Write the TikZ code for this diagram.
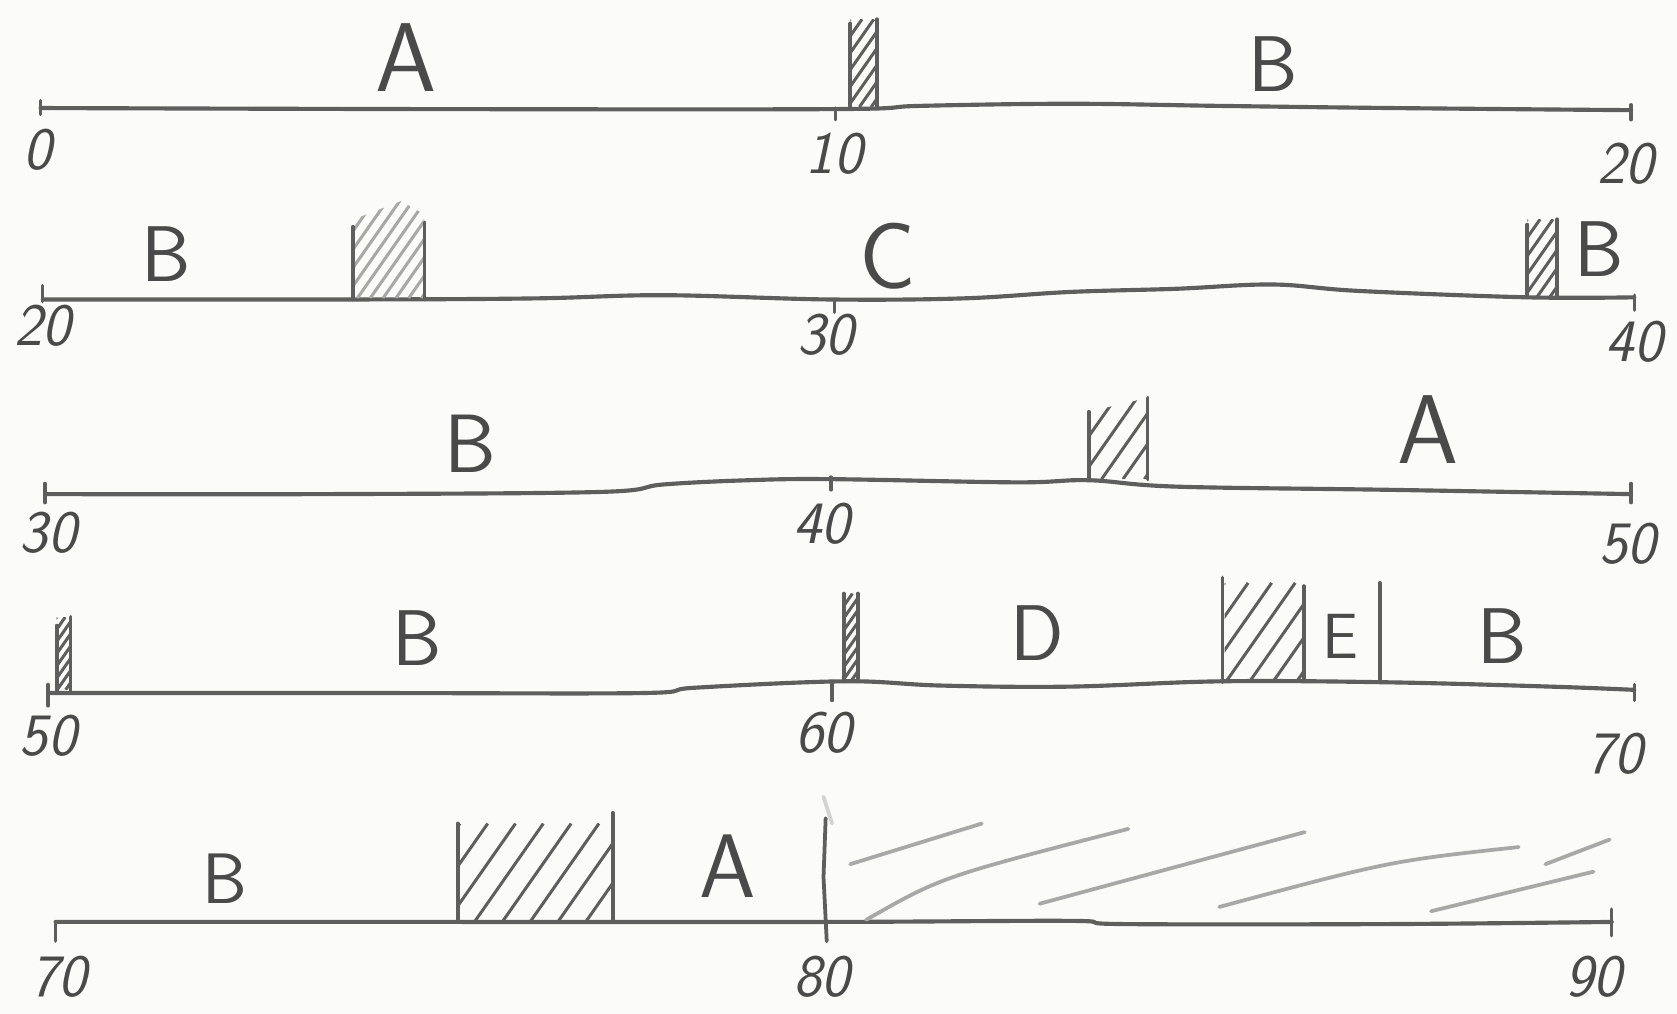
\documentclass[tikz,border=0pt]{standalone}
\definecolor{paper}{HTML}{FBFBFA}
\definecolor{pencil}{HTML}{5E5E5E}
\definecolor{pencillight}{HTML}{A8A8A8}
\definecolor{ink}{HTML}{4A4A4A}
\tikzset{
  axis/.style={draw=pencil, line width=1.1pt, line cap=round, line join=round},
  tickmark/.style={draw=pencil, line width=0.9pt, line cap=round},
  divider/.style={draw=pencil, line width=1.0pt, line cap=round},
  dividerlight/.style={draw=pencillight, line width=1.0pt, line cap=round},
  hatch/.style={draw=pencil, line width=0.8pt},
  hatchlight/.style={draw=pencillight, line width=0.8pt},
  scribble/.style={draw=pencillight, line width=1.0pt, line cap=round},
  seg/.style={text=ink, font=\sffamily, inner sep=0pt},
  num/.style={text=ink, font=\sffamily\slshape\fontsize{16}{18}\selectfont, inner sep=0pt},
}
% x1, ytop, x2, ybottom, spacing, style
\newcommand{\hatchrect}[6]{%
  \begin{scope}
    \clip (#1,#2) rectangle (#3,#4);
    \pgfmathsetmacro{\hh}{#4-#2}
    \pgfmathsetmacro{\hw}{0.7*\hh}
    \pgfmathsetmacro{\hstart}{#1-\hw}
    \pgfmathsetmacro{\hnext}{\hstart+#5}
    \foreach \a in {\hstart,\hnext,...,#3}{
      \draw[#6] (\a,#4) -- ++(\hw,-\hh);
    }
  \end{scope}}
\begin{document}
\begin{tikzpicture}[x=0.01cm,y=-0.01cm]
\fill[paper] (0,0) rectangle (1568,948);
\useasboundingbox (0,0) rectangle (1568,948);

% ---------------- Row 1 : 0 - 20
\draw[axis] plot[smooth, tension=0.6] coordinates {(38,101) (400,102) (781,102) (860,99) (1000,97) (1140,99) (1300,101) (1525,103)};
\draw[tickmark] (38,94) -- (38,107);
\draw[tickmark] (781,101) -- (781,112);
\draw[tickmark] (1525,98) -- (1525,112);
\hatchrect{795}{18}{820}{100}{11}{hatch}
\draw[divider] (795,22) -- (795,100);
\draw[divider] (820,18) -- (820,100);
\node[seg, font=\sffamily\fontsize{26}{30}\selectfont] (a1) at (380,54) {A};
\node[seg, font=\sffamily\fontsize{21}{24}\selectfont] (b1) at (1190,60) {B};
\node[num] (n0) at (35,140) {0};
\node[num] (n10) at (780,144) {10};
\node[num] (n20a) at (1520,153) {20};

% ---------------- Row 2 : 20 - 40
\draw[axis] plot[smooth, tension=0.6] coordinates {(40,280) (330,280) (500,279) (620,276) (775,280) (900,279) (1000,273) (1100,270) (1190,266) (1270,272) (1428,278) (1528,278)};
\draw[tickmark] (40,267) -- (40,282);
\draw[tickmark] (780,280) -- (780,292);
\draw[tickmark] (1528,276) -- (1528,290);
\begin{scope}
  \clip (331,205) -- (375,188) -- (396,200) -- (396,279) -- (331,279) -- cycle;
  \foreach \a in {250,262,...,400}{\draw[hatchlight] (\a,279) -- ++(70,-100);}
\end{scope}
\draw[divider] (330,212) -- (330,280);
\draw[divider] (397,208) -- (397,280);
\hatchrect{1428}{205}{1456}{278}{12}{hatch}
\draw[divider] (1428,210) -- (1428,278);
\draw[divider] (1456,205) -- (1456,278);
\node[seg, font=\sffamily\fontsize{21}{24}\selectfont] (b2) at (155,238) {B};
\node[seg, font=\sffamily\fontsize{25}{28}\selectfont] (c2) at (830,240) {C};
\node[seg, font=\sffamily\fontsize{21}{24}\selectfont] (b3) at (1495,233) {B};
\node[num] (n20b) at (40,305) {20};
\node[num] (n30a) at (772,313) {30};
\node[num] (n40a) at (1528,320) {40};

% ---------------- Row 3 : 30 - 50
\draw[axis] plot[smooth, tension=0.6] coordinates {(42,462) (300,462) (560,460) (620,453) (700,449) (777,448) (950,451) (1018,449) (1100,455) (1300,458) (1525,462)};
\draw[tickmark] (42,452) -- (42,470);
\draw[tickmark] (777,446) -- (777,458);
\draw[tickmark] (1525,452) -- (1525,470);
\begin{scope}
  \clip (1018,385) -- (1073,372) -- (1073,448) -- (1018,448) -- cycle;
  \foreach \a in {950,970,...,1080}{\draw[hatch] (\a,448) -- ++(70,-100);}
\end{scope}
\draw[divider] (1018,385) -- (1018,449);
\draw[divider] (1073,372) -- (1073,448);
\node[seg, font=\sffamily\fontsize{22}{26}\selectfont] (b4) at (440,415) {B};
\node[seg, font=\sffamily\fontsize{26}{30}\selectfont] (a2) at (1335,402) {A};
\node[num] (n30b) at (45,498) {30};
\node[num] (n40b) at (768,490) {40};
\node[num] (n50a) at (1522,508) {50};

% ---------------- Row 4 : 50 - 70
\draw[axis] plot[smooth, tension=0.6] coordinates {(45,648) (350,648) (600,648) (650,643) (790,637) (880,641) (1000,642) (1143,637) (1300,638) (1450,642) (1528,645)};
\draw[tickmark] (45,640) -- (45,660);
\draw[tickmark] (778,637) -- (778,655);
\draw[tickmark] (1528,640) -- (1528,655);
\hatchrect{53}{577}{66}{645}{8}{hatch}
\draw[divider] (53,585) -- (53,646);
\draw[divider] (66,577) -- (66,646);
\hatchrect{789}{555}{802}{637}{8}{hatch}
\draw[divider] (789,555) -- (789,637);
\draw[divider] (802,555) -- (802,637);
\hatchrect{1145}{545}{1218}{637}{22}{hatch}
\draw[divider] (1143,540) -- (1143,638);
\draw[divider] (1219,548) -- (1219,637);
\draw[divider] (1290,545) -- (1290,638);
\node[seg, font=\sffamily\fontsize{21}{24}\selectfont] (b5) at (390,597) {B};
\node[seg, font=\sffamily\fontsize{21}{24}\selectfont] (d1) at (970,592) {D};
\node[seg, font=\sffamily\fontsize{17}{20}\selectfont] (e1) at (1253,595) {E};
\node[seg, font=\sffamily\fontsize{21}{24}\selectfont] (b6) at (1405,595) {B};
\node[num] (n50b) at (45,688) {50};
\node[num] (n60) at (770,685) {60};
\node[num] (n70a) at (1510,705) {70};

% ---------------- Row 5 : 70 - 90
\draw[axis] plot[smooth, tension=0.6] coordinates {(52,862) (400,862) (772,862) (1000,861) (1050,864) (1300,864) (1507,862)};
\draw[tickmark] (52,862) -- (52,880);
\draw[tickmark] (1507,850) -- (1507,875);
\draw[divider] (772,765) -- (770,820) -- (773,880);
\hatchrect{430}{770}{572}{861}{26}{hatch}
\draw[divider] (428,770) -- (428,862);
\draw[divider] (573,760) -- (573,862);
\draw[scribble] (795,808) -- (918,770);
\draw[scribble] (810,860) .. controls (880,820) .. (1055,775);
\draw[scribble] (972,845) -- (1220,778);
\draw[scribble] (1140,848) .. controls (1300,805) .. (1420,792);
\draw[scribble] (1338,852) -- (1490,815);
\draw[scribble] (1445,808) -- (1505,785);
\draw[scribble, draw=pencillight!50] (770,745) -- (778,770);
\node[seg, font=\sffamily\fontsize{19}{22}\selectfont] (b7) at (210,822) {B};
\node[seg, font=\sffamily\fontsize{24}{28}\selectfont] (a3) at (680,810) {A};
\node[num] (n70b) at (55,913) {70};
\node[num] (n80) at (768,913) {80};
\node[num] (n90) at (1490,913) {90};
\end{tikzpicture}
\end{document}
